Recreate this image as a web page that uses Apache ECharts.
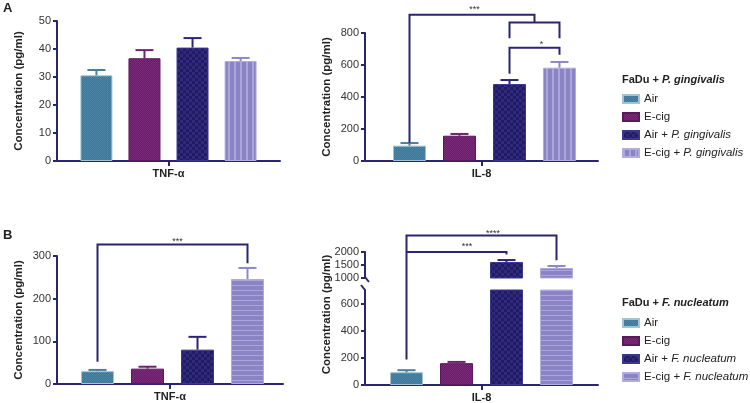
<!DOCTYPE html>
<html><head><meta charset="utf-8">
<script src="https://cdn.jsdelivr.net/npm/echarts@6/dist/echarts.min.js"></script>
<style>html,body{margin:0;padding:0;background:#fff}#c{width:750px;height:403px}</style>
</head><body><div id="c"></div>
<script>
// ---------- data ----------
const groupsA = ['Air', 'E-cig', 'Air + P. gingivalis', 'E-cig + P. gingivalis'];
const groupsB = ['Air', 'E-cig', 'Air + F. nucleatum', 'E-cig + F. nucleatum'];
const positions = [1, 2, 3, 4];
const cytokines = ['TNF-α', 'IL-8'];

const tnfA = [30.6, 36.7, 40.5, 35.7];
const tnfAErr = [1.9, 2.9, 3.4, 1.1];
const il8A = [96, 158, 481, 583];
const il8AErr = [16, 11, 25, 36];
const tnfB = [30, 36, 80.5, 246];
const tnfBErr = [3, 4.5, 30, 26];
const il8B = [94, 161, 1615, 1385];
const il8BErr = [15, 9, 75, 75];

const ticksIl8BLow = [0, 200, 400, 600];
const ticksIl8BHigh = [1000, 1500, 2000];

// significance brackets (paths in data units) and labels
const sigA_IL8 = [
  {path: [[1, 114], [1, 914], [3.5, 914], [3.5, 866]], text: '***', at: [2.3, 944]},
  {path: [[3, 767], [3, 866], [4, 866], [4, 767]]},
  {path: [[3, 546], [3, 708], [4, 708], [4, 664]], text: '*', at: [3.64, 731]}
];
const sigB_TNF = [
  {path: [[1, 52], [1, 327], [4, 327], [4, 283]], text: '***', at: [2.6, 333]}
];
const sigB_IL8 = [
  {path: [[1, 188], [1, 1102], [4, 1102], [4, 920]], text: '****', at: [2.73, 1119]},
  {path: [[1, 980], [3, 980], [3, 961]], text: '***', at: [2.21, 1017]}
];

// ---------- style ----------
const FONT = "'Liberation Sans', Arial, sans-serif";
const NAVY = '#2b2571';
function pat(w, h, bg, fg, rects) {
  const c = document.createElement('canvas'); c.width = w; c.height = h;
  const g = c.getContext('2d'); g.fillStyle = bg; g.fillRect(0, 0, w, h);
  g.fillStyle = fg; rects.forEach(r => g.fillRect(r[0], r[1], r[2], r[3]));
  return {image: c, repeat: 'repeat'};
}
const fillAir = pat(2, 2, '#3d7696', '#4b86a6', [[0, 0, 1, 1], [1, 1, 1, 1]]);
const fillEcig = pat(2, 2, '#691d69', '#7b2b79', [[0, 0, 1, 1], [1, 1, 1, 1]]);
const fillNavy = pat(6, 6, '#211b62', '#2f2a7d', [[0, 0, 3, 3], [3, 3, 3, 3]]);
const fillLavV = pat(6, 1, '#8a84c4', '#aba7dd', [[0, 0, 2, 1]]);
const fillLavH = pat(1, 5, '#8a84c4', '#aba7dd', [[0, 0, 1, 1]]);
const stylesA = [
  {color: fillAir, borderColor: '#a3c2d3', borderWidth: 1},
  {color: fillEcig, borderColor: '#5a1a5a', borderWidth: 1},
  {color: fillNavy, borderColor: '#3b3690', borderWidth: 1},
  {color: fillLavV, borderColor: '#b0ace0', borderWidth: 1}
];
const stylesB = [stylesA[0], stylesA[1], stylesA[2], {color: fillLavH, borderColor: '#b0ace0', borderWidth: 1}];
const errColors = ['#4a7e9d', '#6e246c', '#2b2574', '#8d87c6'];

function italic(name) { return name.replace(/(P\. gingivalis|F\. nucleatum)/, '{i|$1}'); }

function barSeries(names, vals, styles, xi, yi, width, keep) {
  return names.map((n, i) => ({
    name: n, type: 'bar', xAxisIndex: xi, yAxisIndex: yi, barWidth: width, barGap: '-100%',
    data: keep(vals[i]) ? [[positions[i], vals[i]]] : [],
    itemStyle: styles[i], silent: true, clip: true, z: 2, animation: false
  }));
}
function errSeries(vals, errs, xi, yi, keep) {
  const data = [];
  vals.forEach((v, i) => { if (keep(v + errs[i])) data.push([positions[i], v, v + errs[i], i]); });
  return {
    type: 'custom', xAxisIndex: xi, yAxisIndex: yi, silent: true, z: 3, animation: false,
    data: data, encode: {x: 0, y: 2},
    renderItem: (params, api) => {
      const x = api.value(0);
      const lo = api.coord([x, api.value(1)]), hi = api.coord([x, api.value(2)]);
      const col = errColors[api.value(3)];
      return {type: 'group', children: [
        {type: 'line', shape: {x1: lo[0], y1: lo[1], x2: hi[0], y2: hi[1]}, style: {stroke: col, lineWidth: 2}},
        {type: 'line', shape: {x1: hi[0] - 9, y1: hi[1], x2: hi[0] + 9, y2: hi[1]}, style: {stroke: col, lineWidth: 2}}
      ]};
    }
  };
}
function sigSeries(list, xi, yi) {
  return {
    type: 'custom', xAxisIndex: xi, yAxisIndex: yi, silent: true, z: 5, animation: false,
    data: list.map((b, i) => [b.path[0][0], b.path[0][1], i]), encode: {x: 0, y: 1},
    renderItem: (params, api) => {
      const b = list[params.dataIndex];
      const children = [{type: 'polyline', shape: {points: b.path.map(p => api.coord(p))},
        style: {stroke: NAVY, lineWidth: 2, fill: 'none'}}];
      if (b.text) {
        const c = api.coord(b.at);
        children.push({type: 'text', x: c[0], y: c[1], style: {text: b.text, fill: '#333',
          font: '9px ' + FONT, align: 'center', verticalAlign: 'middle'}});
      }
      return {type: 'group', children: children};
    }
  };
}

const axLine = {show: true, lineStyle: {color: NAVY, width: 2}};
const axTick = {show: true, length: 4, lineStyle: {color: NAVY, width: 2}};
const yLabel = {color: '#333', fontSize: 11, margin: 6, fontFamily: FONT, formatter: v => String(v)};
const yName = {fontWeight: 'bold', fontSize: 11.5, color: '#222', fontFamily: FONT};
function yAx(grid, min, max, interval, named, extra) {
  return Object.assign({
    type: 'value', gridIndex: grid, position: 'left', min: min, max: max, interval: interval,
    axisLine: axLine, axisTick: axTick, axisLabel: yLabel, splitLine: {show: false},
    name: named ? 'Concentration (pg/ml)' : '', nameLocation: 'middle', nameGap: 32, nameTextStyle: yName
  }, extra || {});
}
function xVal(grid, min, max) {
  return {type: 'value', gridIndex: grid, position: 'bottom', min: min, max: max, show: false, splitLine: {show: false}};
}
function xCat(grid, label) {
  return {type: 'category', gridIndex: grid, position: 'bottom', data: [label], boundaryGap: true,
    axisLine: axLine, axisTick: {show: true, alignWithLabel: true, length: 5, lineStyle: {color: NAVY, width: 2}},
    axisLabel: {fontWeight: 'bold', fontSize: 11, color: '#222', margin: 7, fontFamily: FONT}};
}

const all = () => true;
const option = {
  animation: false,
  textStyle: {fontFamily: FONT},
  title: [
    {text: 'A', left: 3, top: 2, padding: 0, textStyle: {fontSize: 13, fontWeight: 'bold', color: '#222', fontFamily: FONT}},
    {text: 'B', left: 3, top: 229, padding: 0, textStyle: {fontSize: 13, fontWeight: 'bold', color: '#222', fontFamily: FONT}},
    {text: '{b|FaDu + }{i|P. gingivalis}', left: 622, top: 74, padding: 0,
      textStyle: {rich: {b: {fontSize: 11, fontWeight: 'bold', color: '#222', fontFamily: FONT},
        i: {fontSize: 11, fontWeight: 'bold', fontStyle: 'italic', color: '#222', fontFamily: FONT}}}},
    {text: '{b|FaDu + }{i|F. nucleatum}', left: 622, top: 297, padding: 0,
      textStyle: {rich: {b: {fontSize: 11, fontWeight: 'bold', color: '#222', fontFamily: FONT},
        i: {fontSize: 11, fontWeight: 'bold', fontStyle: 'italic', color: '#222', fontFamily: FONT}}}}
  ],
  legend: [groupsA, groupsB].map((g, k) => ({
    data: g, left: 622, top: k === 0 ? 93 : 317, orient: 'vertical', itemWidth: 16, itemHeight: 8,
    itemGap: 6, padding: 0, icon: 'rect', selectedMode: false, formatter: italic,
    textStyle: {fontSize: 11.5, color: '#222', fontFamily: FONT,
      rich: {i: {fontStyle: 'italic', fontSize: 11.5, color: '#222', fontFamily: FONT}}}
  })),
  grid: [
    {left: 57, top: 21, width: 223, height: 140},
    {left: 365, top: 33, width: 233, height: 128},
    {left: 57, top: 256, width: 226, height: 128},
    {left: 365, top: 290, width: 233, height: 96},
    {left: 365, top: 252, width: 233, height: 26}
  ],
  xAxis: [
    xVal(0, 0.18, 4.82), xVal(1, 0.11, 4.77), xVal(2, 0.19, 4.71), xVal(3, 0.17, 4.83), xVal(4, 0.17, 4.83),
    xCat(0, cytokines[0]), xCat(1, cytokines[1]), xCat(2, cytokines[0]), xCat(3, cytokines[1])
  ],
  yAxis: [
    yAx(0, 0, 50, 10, true),
    yAx(1, 0, 800, 200, true),
    yAx(2, 0, 300, 100, true),
    yAx(3, 0, 700, 200, true, {axisTick: Object.assign({customValues: ticksIl8BLow}, axTick),
      axisLabel: Object.assign({customValues: ticksIl8BLow}, yLabel),
      nameTextStyle: Object.assign({padding: [0, 0, 0, 46]}, yName)}),
    yAx(4, 1000, 2000, 500, false, {axisTick: Object.assign({customValues: ticksIl8BHigh}, axTick),
      axisLabel: Object.assign({customValues: ticksIl8BHigh}, yLabel)})
  ],
  graphic: [
    {type: 'line', shape: {x1: 365, y1: 277, x2: 369, y2: 282}, style: {stroke: NAVY, lineWidth: 2}},
    {type: 'line', shape: {x1: 361, y1: 285, x2: 365, y2: 290}, style: {stroke: NAVY, lineWidth: 2}}
  ],
  series: [].concat(
    barSeries(groupsA, tnfA, stylesA, 0, 0, 32, all),
    barSeries(groupsA, il8A, stylesA, 1, 1, 33, all),
    barSeries(groupsB, tnfB, stylesB, 2, 2, 33, all),
    barSeries(groupsB, il8B, stylesB, 3, 3, 33, all),
    barSeries(groupsB, il8B, stylesB, 4, 4, 33, v => v > 1000),
    [errSeries(tnfA, tnfAErr, 0, 0, all),
     errSeries(il8A, il8AErr, 1, 1, all),
     errSeries(tnfB, tnfBErr, 2, 2, all),
     errSeries(il8B, il8BErr, 3, 3, v => v <= 700),
     errSeries(il8B, il8BErr, 4, 4, v => v > 700),
     sigSeries(sigA_IL8, 1, 1),
     sigSeries(sigB_TNF, 2, 2),
     sigSeries(sigB_IL8, 3, 3)]
  )
};
const chart = echarts.init(document.getElementById('c'), null, {renderer: 'canvas'});
chart.setOption(option);
</script>
</body></html>
